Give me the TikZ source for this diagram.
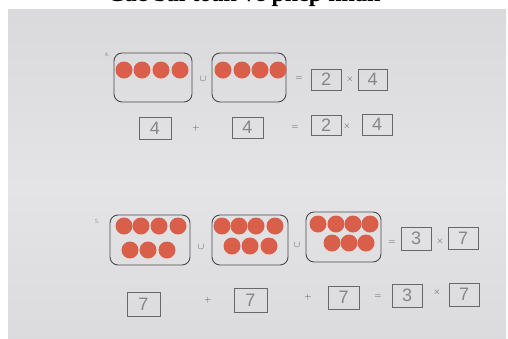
\documentclass[tikz,border=0pt]{standalone}
\usepackage{fontspec}
\setmainfont{Liberation Serif}
\newfontfamily\handfont{Liberation Sans}
\definecolor{pbot}{HTML}{D2D2D6}
\definecolor{pmid}{HTML}{E4E4E6}
\definecolor{pupper}{HTML}{D6D5D8}
\definecolor{ptop}{HTML}{B0AAAD}
\definecolor{dotc}{HTML}{D95F4B}
\definecolor{linec}{HTML}{4A4A4C}
\definecolor{ansc}{HTML}{68686C}
\definecolor{handc}{HTML}{86868A}
\definecolor{opc}{HTML}{505054}
\pgfdeclareverticalshading{paper}{100bp}{color(0bp)=(pbot); color(48bp)=(pmid); color(84bp)=(pupper); color(100bp)=(ptop)}
\begin{document}
\begin{tikzpicture}[x=1pt,y=-1pt,
  bigbox/.style={draw=linec, line width=0.9pt, rounded corners=8pt, minimum height=50pt, inner sep=0pt},
  dot/.style={circle, fill=dotc, minimum size=17pt, inner sep=0pt},
  ansbox/.style={draw=ansc, line width=0.7pt, minimum width=30pt, minimum height=22pt, inner sep=0pt,
     font=\handfont\fontsize{18}{18}\selectfont, text=handc},
  op/.style={text=opc, font=\fontsize{9}{9}\selectfont, inner sep=0pt},
  num/.style={text=handc, font=\fontsize{6}{6}\selectfont, inner sep=0pt},
  title/.style={font=\bfseries\fontsize{24}{24}\selectfont, inner sep=0pt, anchor=base}]
\useasboundingbox (0,0) rectangle (508,338);
\fill[white] (0,0) rectangle (508,338);
\shade[shading=paper] (8,9) rectangle (506,338);
\node[title] (title) at (244,1.5) {Các bài toán về phép nhân};

% ---------- problem 4 ----------
\node[num] (n4) at (107,55) {4.};
\node[bigbox, minimum width=78pt, minimum height=49pt] (B4a) at (153,77.5) {};
\node[bigbox, minimum width=74pt, minimum height=49pt] (B4b) at (249,77.5) {};
\foreach \x [count=\i] in {124,142,161,180} \node[dot] (d4a\i) at (\x,70) {};
\foreach \x [count=\i] in {223,242,260,278} \node[dot] (d4b\i) at (\x,70) {};
\node[op] (u4) at (203,79) {$\cup$};
\node[op] (eq4a) at (299,79) {$=$};
\node[ansbox, minimum height=21pt] (a4a) at (326,79.5) {2};
\node[op] (x4a) at (350,79) {$\times$};
\node[ansbox, minimum width=29pt, minimum height=21pt] (a4b) at (372.5,79.5) {4};

\node[ansbox, minimum width=32pt] (a4c) at (155,128) {4};
\node[op] (p4) at (196,128) {$+$};
\node[ansbox, minimum width=31pt, minimum height=21pt] (a4d) at (247.5,127.5) {4};
\node[op] (eq4b) at (295,128) {$=$};
\node[ansbox, minimum height=20pt] (a4e) at (326,125) {2};
\node[op] (x4b) at (347,126) {$\times$};
\node[ansbox, minimum height=21pt] (a4f) at (377,124.5) {4};

% ---------- problem 5 ----------
\node[num] (n5) at (97,222) {5.};
\node[bigbox, minimum width=80pt] (B5a) at (150,240) {};
\node[bigbox, minimum width=76pt] (B5b) at (250,240) {};
\node[bigbox, minimum width=75pt] (B5c) at (343.5,237) {};
\foreach \x [count=\i] in {124,141,159,178} \node[dot] (d5a\i) at (\x,226) {};
\foreach \x [count=\i] in {130,148,167} \node[dot] (d5b\i) at (\x,250) {};
\foreach \x [count=\i] in {222,239,256,275} \node[dot] (d5c\i) at (\x,226) {};
\foreach \x [count=\i] in {232,250,269} \node[dot] (d5d\i) at (\x,246) {};
\foreach \x [count=\i] in {318,336,353,370} \node[dot] (d5e\i) at (\x,224) {};
\foreach \x [count=\i] in {332,349,366} \node[dot] (d5f\i) at (\x,243) {};
\node[op] (u5a) at (201,247) {$\cup$};
\node[op] (u5b) at (297,245) {$\cup$};
\node[op] (eq5a) at (392,243) {$=$};
\node[ansbox, minimum height=23pt] (a5a) at (416,238.5) {3};
\node[op] (x5a) at (440,241) {$\times$};
\node[ansbox] (a5b) at (463,238) {7};

\node[ansbox, minimum width=33pt, minimum height=24pt] (a5c) at (143.5,304) {7};
\node[op] (p5a) at (208,300) {$+$};
\node[ansbox, minimum width=33pt, minimum height=24pt] (a5d) at (250.5,300) {7};
\node[op] (p5b) at (308,297) {$+$};
\node[ansbox, minimum width=31pt, minimum height=23pt] (a5e) at (343.5,297.5) {7};
\node[op] (eq5b) at (378,297) {$=$};
\node[ansbox, minimum height=23pt] (a5f) at (407,295.5) {3};
\node[op] (x5b) at (437,292) {$\times$};
\node[ansbox, minimum height=23pt] (a5g) at (464,294.5) {7};
\end{tikzpicture}
\end{document}
